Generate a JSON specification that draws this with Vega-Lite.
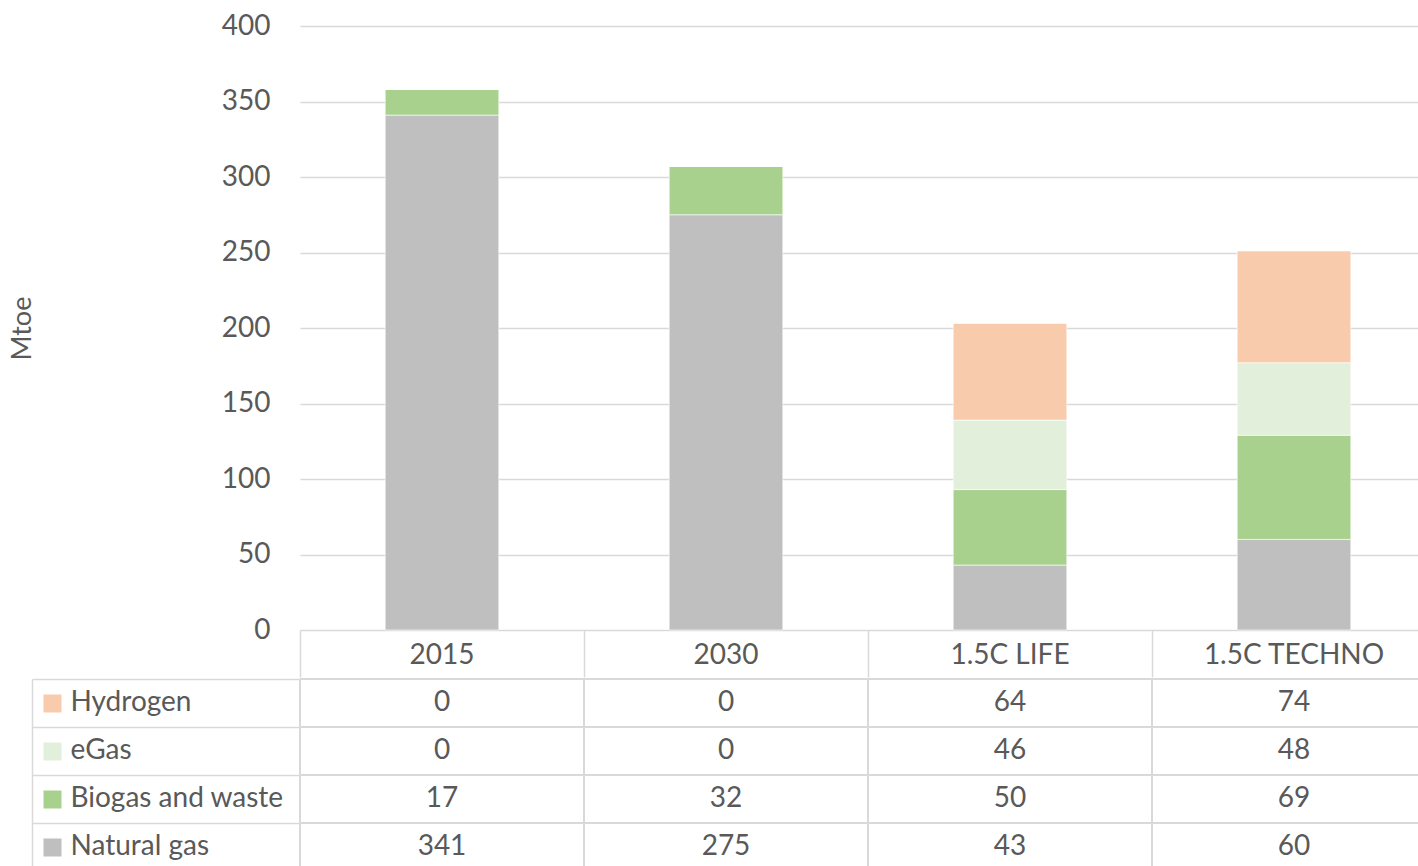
{
  "$schema": "https://vega.github.io/schema/vega-lite/v6.json",
  "padding": {"left": 8, "top": 12, "right": 0, "bottom": 0},
  "spacing": 0,
  "config": {
    "view": {"stroke": null},
    "axis": {"labelFont": "Lato", "titleFont": "Lato", "labelColor": "#595959", "titleColor": "#595959", "labelFontSize": 28, "titleFontSize": 27, "titleFontWeight": "normal"},
    "text": {"font": "Lato"}
  },
  "data": {"values": [
    {"category": "2015", "series": "Natural gas", "level": 1, "value": 341},
    {"category": "2015", "series": "Biogas and waste", "level": 2, "value": 17},
    {"category": "2015", "series": "eGas", "level": 3, "value": 0},
    {"category": "2015", "series": "Hydrogen", "level": 4, "value": 0},
    {"category": "2030", "series": "Natural gas", "level": 1, "value": 275},
    {"category": "2030", "series": "Biogas and waste", "level": 2, "value": 32},
    {"category": "2030", "series": "eGas", "level": 3, "value": 0},
    {"category": "2030", "series": "Hydrogen", "level": 4, "value": 0},
    {"category": "1.5C LIFE", "series": "Natural gas", "level": 1, "value": 43},
    {"category": "1.5C LIFE", "series": "Biogas and waste", "level": 2, "value": 50},
    {"category": "1.5C LIFE", "series": "eGas", "level": 3, "value": 46},
    {"category": "1.5C LIFE", "series": "Hydrogen", "level": 4, "value": 64},
    {"category": "1.5C TECHNO", "series": "Natural gas", "level": 1, "value": 60},
    {"category": "1.5C TECHNO", "series": "Biogas and waste", "level": 2, "value": 69},
    {"category": "1.5C TECHNO", "series": "eGas", "level": 3, "value": 48},
    {"category": "1.5C TECHNO", "series": "Hydrogen", "level": 4, "value": 74}
  ]},
  "vconcat": [
    {
      "width": 1118,
      "height": 604,
      "mark": {"type": "bar", "width": {"band": 0.4}, "stroke": "white", "strokeWidth": 0.6},
      "encoding": {
        "x": {
          "field": "category", "type": "nominal",
          "sort": ["2015", "2030", "1.5C LIFE", "1.5C TECHNO"],
          "scale": {"range": [0, 1136], "paddingInner": 0, "paddingOuter": 0},
          "axis": {"title": null, "orient": "bottom", "domain": false, "ticks": true, "tickSize": 47, "tickColor": "#d9d9d9", "tickWidth": 1.5, "bandPosition": 0, "labelAngle": 0, "labelAlign": "center", "labelBaseline": "middle", "labelPadding": -22, "grid": false, "labelLimit": 300}
        },
        "y": {
          "field": "value", "type": "quantitative", "stack": "zero",
          "scale": {"domain": [0, 400], "nice": false},
          "axis": {"values": [0, 50, 100, 150, 200, 250, 300, 350, 400], "title": "Mtoe", "grid": true, "gridColor": "#d9d9d9", "gridWidth": 1.5, "domain": false, "ticks": false, "labelPadding": 30, "titleX": -264, "titleBaseline": "bottom", "titleAngle": 270}
        },
        "color": {
          "field": "series", "type": "nominal",
          "scale": {"domain": ["Hydrogen", "eGas", "Biogas and waste", "Natural gas"], "range": ["#F8CBAD", "#E2EFDA", "#A9D18E", "#BFBFBF"]},
          "legend": null
        },
        "order": {"field": "level", "type": "quantitative", "sort": "ascending"}
      }
    },
    {
      "width": 1118,
      "height": 192,
      "layer": [
        {
          "mark": {"type": "rule", "color": "#d9d9d9", "strokeWidth": 1.5},
          "encoding": {
            "x": {"field": "category", "type": "nominal", "sort": ["2015", "2030", "1.5C LIFE", "1.5C TECHNO"], "bandPosition": 0, "scale": {"range": [0, 1136], "paddingInner": 0, "paddingOuter": 0}, "axis": null}
          }
        },
        {
          "mark": {"type": "rule", "color": "#d9d9d9", "strokeWidth": 1.5},
          "encoding": {
            "y": {
              "field": "series", "type": "nominal", "bandPosition": 0,
              "scale": {"domain": ["Hydrogen", "eGas", "Biogas and waste", "Natural gas"], "paddingInner": 0, "paddingOuter": 0},
              "axis": {
                "orient": "left", "title": null, "offset": 239, "bandPosition": 0.5,
                "domain": false, "grid": false, "labels": false,
                "ticks": true, "tickSize": 18, "tickWidth": 18,
                "tickColor": {"condition": [
                  {"test": "datum.value === 'Hydrogen'", "value": "#F8CBAD"},
                  {"test": "datum.value === 'eGas'", "value": "#E2EFDA"},
                  {"test": "datum.value === 'Biogas and waste'", "value": "#A9D18E"}
                ], "value": "#BFBFBF"}
              }
            }
          }
        },
        {
          "mark": {"type": "text", "fontSize": 28, "color": "#595959", "font": "Lato"},
          "encoding": {
            "x": {"field": "category", "type": "nominal", "sort": ["2015", "2030", "1.5C LIFE", "1.5C TECHNO"], "scale": {"range": [0, 1136], "paddingInner": 0, "paddingOuter": 0}, "axis": null},
            "y": {
              "field": "series", "type": "nominal",
              "scale": {"domain": ["Hydrogen", "eGas", "Biogas and waste", "Natural gas"], "paddingInner": 0, "paddingOuter": 0},
              "axis": {
                "orient": "left", "title": null, "offset": 268, "bandPosition": 0,
                "domain": true, "domainColor": "#d9d9d9", "domainWidth": 1.5,
                "grid": false, "ticks": true, "tickSize": -268, "tickColor": "#d9d9d9", "tickWidth": 1.5,
                "labels": true, "labelAlign": "left", "labelBaseline": "middle", "labelPadding": 230, "labelLimit": 300
              }
            },
            "text": {"field": "value", "type": "quantitative"}
          }
        }
      ],
      "resolve": {"axis": {"y": "independent"}}
    }
  ]
}
